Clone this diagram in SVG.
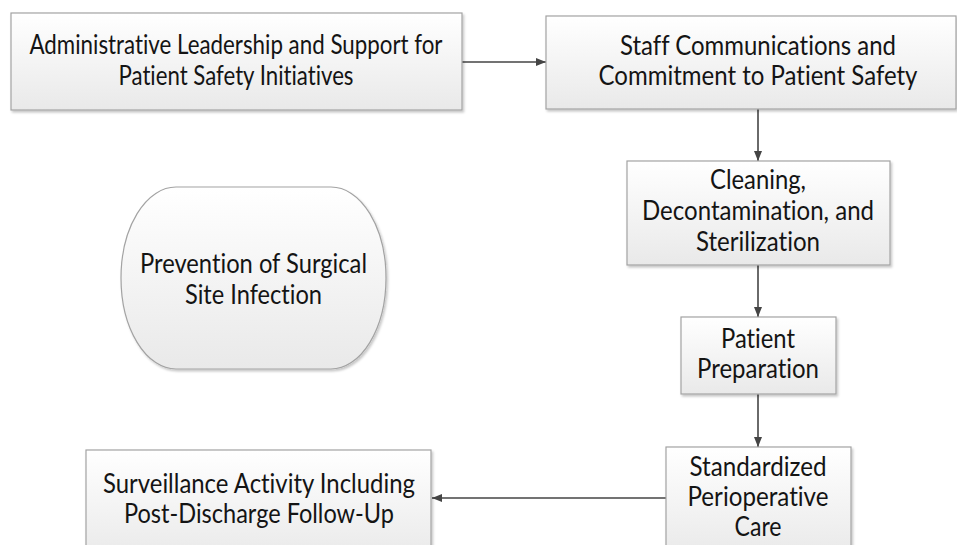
<svg xmlns="http://www.w3.org/2000/svg" width="957" height="545" viewBox="0 0 957 545">
<style>
.box{fill:url(#g);stroke:#a3a3a3;stroke-width:1.2;filter:url(#sh)}
text{font-family:Lato,"Liberation Sans",sans-serif;font-size:26px;fill:#141414;text-anchor:middle;font-variant-ligatures:none;font-feature-settings:"liga" 0,"dlig" 0}
.c{stroke:#454545;stroke-width:1.6;fill:none;marker-end:url(#a)}
</style>
<defs>
<linearGradient id="g" x1="0" y1="0" x2="0" y2="1">
<stop offset="0" stop-color="#ffffff"/>
<stop offset="1" stop-color="#e9e9e9"/>
</linearGradient>
<filter id="sh" x="-5%" y="-5%" width="115%" height="115%">
<feDropShadow dx="1.5" dy="2" stdDeviation="1.2" flood-color="#000" flood-opacity="0.22"/>
</filter>
<marker id="a" viewBox="0 0 10 10" refX="10" refY="5" markerWidth="10" markerHeight="10" markerUnits="userSpaceOnUse" orient="auto">
<path d="M0,1 L10,5 L0,9 Z" fill="#454545"/>
</marker>
</defs>
<g id="connectors">
<line class="c" x1="462" y1="62" x2="546" y2="62"/>
<line class="c" x1="758" y1="109" x2="758" y2="161"/>
<line class="c" x1="758" y1="265" x2="758" y2="317"/>
<line class="c" x1="758" y1="394" x2="758" y2="447"/>
<line class="c" x1="666" y1="498" x2="432" y2="498"/>
</g>
<g id="n1">
<rect class="box" x="11" y="13" width="451" height="97"/>
<text x="236" y="54" textLength="413" lengthAdjust="spacingAndGlyphs">Administrative Leadership and Support for</text>
<text x="236" y="85" textLength="235" lengthAdjust="spacingAndGlyphs">Patient Safety Initiatives</text>
</g>
<g id="n2">
<rect class="box" x="546" y="16" width="410" height="93"/>
<text x="758" y="55" textLength="276" lengthAdjust="spacingAndGlyphs">Staff Communications and</text>
<text x="758" y="85" textLength="319" lengthAdjust="spacingAndGlyphs">Commitment to Patient Safety</text>
</g>
<g id="n3">
<rect class="box" x="627" y="161" width="263" height="104"/>
<text x="758" y="189" textLength="96" lengthAdjust="spacingAndGlyphs">Cleaning,</text>
<text x="758" y="220" textLength="232" lengthAdjust="spacingAndGlyphs">Decontamination, and</text>
<text x="758" y="251" textLength="124" lengthAdjust="spacingAndGlyphs">Sterilization</text>
</g>
<g id="n4">
<rect class="box" x="681" y="317" width="155" height="77"/>
<text x="758" y="348" textLength="74" lengthAdjust="spacingAndGlyphs">Patient</text>
<text x="758" y="378" textLength="122" lengthAdjust="spacingAndGlyphs">Preparation</text>
</g>
<g id="n5">
<rect class="box" x="666" y="447" width="185" height="110"/>
<text x="758" y="476" textLength="137" lengthAdjust="spacingAndGlyphs">Standardized</text>
<text x="758" y="506" textLength="141" lengthAdjust="spacingAndGlyphs">Perioperative</text>
<text x="758" y="536" textLength="47" lengthAdjust="spacingAndGlyphs">Care</text>
</g>
<g id="n6">
<rect class="box" x="86" y="450" width="345" height="110"/>
<text x="259" y="493" textLength="312" lengthAdjust="spacingAndGlyphs">Surveillance Activity Including</text>
<text x="259" y="523" textLength="270" lengthAdjust="spacingAndGlyphs">Post-Discharge Follow-Up</text>
</g>
<g id="n7">
<rect class="box" x="121" y="187" width="265" height="182" rx="55" ry="91"/>
<text x="253.5" y="273" textLength="227" lengthAdjust="spacingAndGlyphs">Prevention of Surgical</text>
<text x="253.5" y="304" textLength="137" lengthAdjust="spacingAndGlyphs">Site Infection</text>
</g>
</svg>
